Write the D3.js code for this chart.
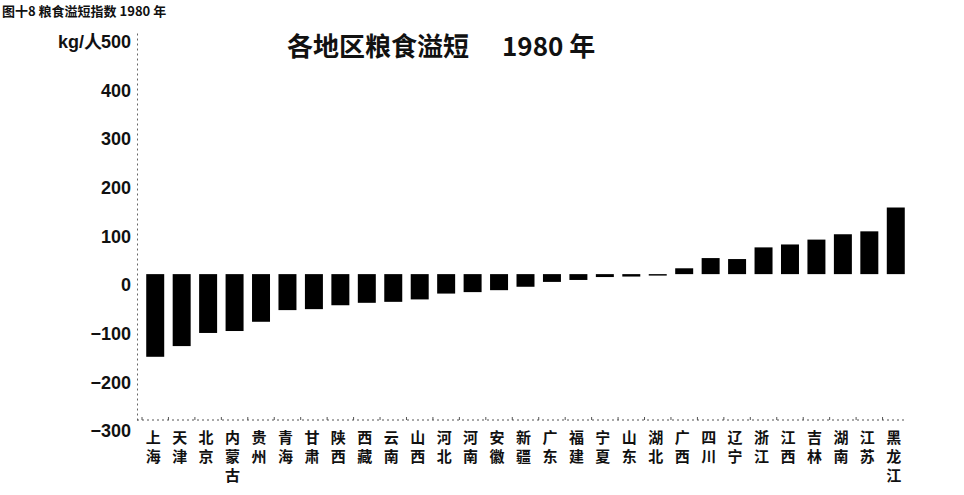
<!DOCTYPE html>
<meta charset="utf-8">
<head>
    <script src="https://d3js.org/d3.v7.min.js"></script>
    <title>各地区粮食溢短 1980 年</title>
</head>
<body>
    <div id="surplus_viz"></div>
</body>
<style>
    body {
        margin: 0;
        background: #fff;
    }
    text {
        fill: #111;
    }
</style>
<script>

    // provinces, sorted from largest shortage to largest surplus
    var provinces = ["上海", "天津", "北京", "内蒙古", "贵州", "青海", "甘肃", "陕西", "西藏", "云南",
        "山西", "河北", "河南", "安徽", "新疆", "广东", "福建", "宁夏", "山东", "湖北",
        "广西", "四川", "辽宁", "浙江", "江西", "吉林", "湖南", "江苏", "黑龙江"];

    // grain surplus / shortage, kg per person, 1980
    var surplus = [-170, -148, -121, -117, -98, -74, -72, -64, -59, -57,
        -52, -40, -37, -33, -26, -16, -12, -6, -5, -3,
        12, 33, 31, 55, 61, 71, 82, 88, 137];

    var yTicks = [-300, -200, -100, 0, 100, 200, 300, 400, 500];

    var width = 964,
        height = 495;

    var svg = d3.select("#surplus_viz")
        .append("svg")
        .attr("width", width)
        .attr("height", height);

    // caption at the very top of the scan
    svg.append("text")
        .attr("x", 2)
        .attr("y", 16)
        .style("font-family", "'Noto Sans CJK SC'")
        .style("font-weight", "bold")
        .style("font-size", "13px")
        .text("图十8 粮食溢短指数 1980 年");

    // scales
    var x = d3.scaleBand()
        .domain(provinces)
        .range([142, 909])
        .paddingInner(0.32)
        .paddingOuter(0.16);

    var y = d3.scaleLinear()
        .domain([-300, 500])
        .range([420, 31]);

    // Y axis
    var yAxis = svg.append("g")
        .attr("transform", "translate(137,0)")
        .call(d3.axisLeft(y).tickValues(yTicks).tickSize(0).tickPadding(6));
    yAxis.select(".domain")
        .attr("stroke", "#666")
        .attr("stroke-dasharray", "2,3");
    yAxis.selectAll(".tick text")
        .attr("dy", "0.93em")
        .style("font-family", "'Liberation Sans', Arial, sans-serif")
        .style("font-weight", "bold")
        .style("font-size", "18px")
        .style("fill", "#111");

    // unit in front of the top label
    svg.append("text")
        .attr("x", 102)
        .attr("y", y(500))
        .attr("dy", "0.93em")
        .attr("text-anchor", "end")
        .style("font-family", "'Liberation Sans', 'Noto Sans CJK SC', sans-serif")
        .style("font-weight", "bold")
        .style("font-size", "18px")
        .text("kg/人");

    // X axis, dotted, labels written vertically
    var xAxis = svg.append("g")
        .attr("transform", "translate(0," + y(-300) + ")")
        .call(d3.axisBottom(x).tickSize(-3).tickSizeOuter(0));
    xAxis.select(".domain")
        .attr("d", "M137,0H906")
        .attr("stroke", "#555")
        .attr("stroke-dasharray", "2,3");
    xAxis.selectAll(".tick line")
        .attr("stroke", "#555")
        .attr("transform", "translate(" + (-x.step() / 2) + ",0)");
    xAxis.selectAll(".tick text").each(function (d) {
        var t = d3.select(this).text("")
            .attr("y", 0)
            .attr("dy", null)
            .style("font-family", "'Noto Sans CJK SC'")
            .style("font-weight", "bold")
            .style("font-size", "15px")
            .style("fill", "#111");
        d.split("").forEach(function (ch, i) {
            t.append("tspan")
                .attr("x", -2)
                .attr("y", 23 + i * 19)
                .text(ch);
        });
    });

    // title, in two pieces to keep the wide gap of the original
    svg.append("text")
        .attr("x", 287)
        .attr("y", 56)
        .style("font-family", "'Noto Sans CJK SC'")
        .style("font-weight", "bold")
        .style("font-size", "26px")
        .text("各地区粮食溢短");
    svg.append("text")
        .attr("x", 502)
        .attr("y", 56)
        .style("font-family", "'Noto Sans CJK SC'")
        .style("font-weight", "bold")
        .style("font-size", "26px")
        .text("1980 年");

    // bars
    svg.selectAll("mybars")
        .data(provinces)
        .enter()
        .append("rect")
        .attr("x", function (d) {
            return x(d);
        })
        .attr("width", x.bandwidth())
        .attr("y", function (d, i) {
            return y(Math.max(0, surplus[i]));
        })
        .attr("height", function (d, i) {
            return Math.abs(y(surplus[i]) - y(0));
        })
        .attr("fill", "#000");

</script>
